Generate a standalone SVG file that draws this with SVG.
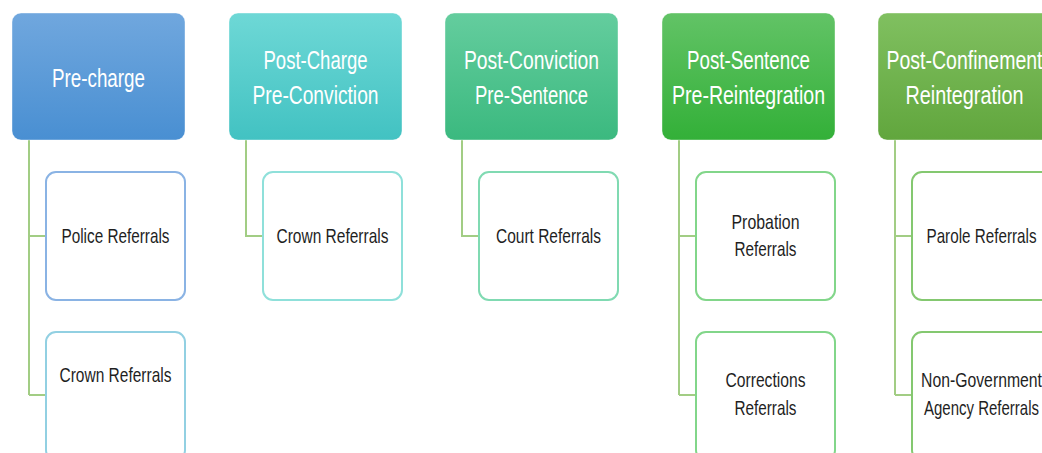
<svg xmlns="http://www.w3.org/2000/svg" width="1042" height="453" viewBox="0 0 1042 453">
<defs>
<linearGradient id="g1" x1="0" y1="0" x2="0" y2="1"><stop offset="0" stop-color="#70a7de"/><stop offset="1" stop-color="#498fd2"/></linearGradient>
<linearGradient id="g2" x1="0" y1="0" x2="0" y2="1"><stop offset="0" stop-color="#6ed8d6"/><stop offset="1" stop-color="#42c2c2"/></linearGradient>
<linearGradient id="g3" x1="0" y1="0" x2="0" y2="1"><stop offset="0" stop-color="#64cd9e"/><stop offset="1" stop-color="#3bb97f"/></linearGradient>
<linearGradient id="g4" x1="0" y1="0" x2="0" y2="1"><stop offset="0" stop-color="#62c366"/><stop offset="1" stop-color="#33b038"/></linearGradient>
<linearGradient id="g5" x1="0" y1="0" x2="0" y2="1"><stop offset="0" stop-color="#80c060"/><stop offset="1" stop-color="#61a63d"/></linearGradient>
</defs>
<style>
.hd{stroke:#ffffff;stroke-opacity:0.4;stroke-width:1}
.ht{font-family:"Liberation Sans",Arial,sans-serif;font-size:25px;fill:#ffffff;text-anchor:middle}
.ch{fill:#ffffff;stroke-width:2}
.ct{font-family:"Liberation Sans",Arial,sans-serif;font-size:21px;fill:#1f1f1f;text-anchor:middle}
.cn{fill:none;stroke:#a2cd84;stroke-width:2}
</style>
<rect width="1042" height="453" fill="#ffffff"/>
<g id="connectors">
<path class="cn" d="M29,140 V395 M29,236 H46 M29,395 H46"/>
<path class="cn" d="M246,140 V236 H263"/>
<path class="cn" d="M462,140 V236 H479"/>
<path class="cn" d="M679,140 V395 M679,236 H696 M679,395 H696"/>
<path class="cn" d="M895,140 V395 M895,236 H912 M895,395 H912"/>
</g>
<g id="h1"><rect class="hd" x="12" y="13" width="173" height="127" rx="9" fill="url(#g1)"/><text class="ht" x="98.5" y="87" textLength="93" lengthAdjust="spacingAndGlyphs">Pre-charge</text></g>
<g id="h2"><rect class="hd" x="229" y="13" width="173" height="127" rx="9" fill="url(#g2)"/><text class="ht" x="315.5" y="68.5" textLength="104" lengthAdjust="spacingAndGlyphs">Post-Charge</text><text class="ht" x="315.5" y="103.5" textLength="126" lengthAdjust="spacingAndGlyphs">Pre-Conviction</text></g>
<g id="h3"><rect class="hd" x="445" y="13" width="173" height="127" rx="9" fill="url(#g3)"/><text class="ht" x="531.5" y="68.5" textLength="135" lengthAdjust="spacingAndGlyphs">Post-Conviction</text><text class="ht" x="531.5" y="103.5" textLength="113" lengthAdjust="spacingAndGlyphs">Pre-Sentence</text></g>
<g id="h4"><rect class="hd" x="662" y="13" width="173" height="127" rx="9" fill="url(#g4)"/><text class="ht" x="748.5" y="68.5" textLength="123" lengthAdjust="spacingAndGlyphs">Post-Sentence</text><text class="ht" x="748.5" y="103.5" textLength="153" lengthAdjust="spacingAndGlyphs">Pre-Reintegration</text></g>
<g id="h5"><rect class="hd" x="878" y="13" width="173" height="127" rx="9" fill="url(#g5)"/><text class="ht" x="964.5" y="68.5" textLength="156" lengthAdjust="spacingAndGlyphs">Post-Confinement</text><text class="ht" x="964.5" y="103.5" textLength="118" lengthAdjust="spacingAndGlyphs">Reintegration</text></g>
<g id="c1a"><rect class="ch" x="46" y="172" width="139" height="128" rx="10" stroke="#8ab3e4"/><text class="ct" x="115.5" y="243" textLength="108" lengthAdjust="spacingAndGlyphs">Police Referrals</text></g>
<g id="c1b"><rect class="ch" x="46" y="332" width="139" height="128" rx="10" stroke="#92d0e2"/><text class="ct" x="115.5" y="382" textLength="112" lengthAdjust="spacingAndGlyphs">Crown Referrals</text></g>
<g id="c2a"><rect class="ch" x="263" y="172" width="139" height="128" rx="10" stroke="#8fe0da"/><text class="ct" x="332.5" y="243" textLength="112" lengthAdjust="spacingAndGlyphs">Crown Referrals</text></g>
<g id="c3a"><rect class="ch" x="479" y="172" width="139" height="128" rx="10" stroke="#80dab2"/><text class="ct" x="548.5" y="243" textLength="105" lengthAdjust="spacingAndGlyphs">Court Referrals</text></g>
<g id="c4a"><rect class="ch" x="696" y="172" width="139" height="128" rx="10" stroke="#82d68a"/><text class="ct" x="765.5" y="229" textLength="68" lengthAdjust="spacingAndGlyphs">Probation</text><text class="ct" x="765.5" y="256" textLength="62" lengthAdjust="spacingAndGlyphs">Referrals</text></g>
<g id="c4b"><rect class="ch" x="696" y="332" width="139" height="128" rx="10" stroke="#82d68a"/><text class="ct" x="765.5" y="387" textLength="80" lengthAdjust="spacingAndGlyphs">Corrections</text><text class="ct" x="765.5" y="415" textLength="62" lengthAdjust="spacingAndGlyphs">Referrals</text></g>
<g id="c5a"><rect class="ch" x="912" y="172" width="139" height="128" rx="10" stroke="#84c870"/><text class="ct" x="981.5" y="243" textLength="110" lengthAdjust="spacingAndGlyphs">Parole Referrals</text></g>
<g id="c5b"><rect class="ch" x="912" y="332" width="139" height="128" rx="10" stroke="#84c870"/><text class="ct" x="981.5" y="387" textLength="121" lengthAdjust="spacingAndGlyphs">Non-Government</text><text class="ct" x="981.5" y="415" textLength="115" lengthAdjust="spacingAndGlyphs">Agency Referrals</text></g>
</svg>
